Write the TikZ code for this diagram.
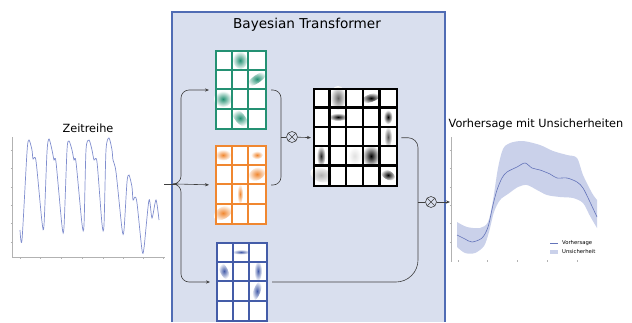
\documentclass[tikz,border=0pt]{standalone}
\usepackage{fontspec}
\setmainfont{DejaVu Sans}
\usetikzlibrary{arrows.meta}

\definecolor{boxfill}{RGB}{217,223,238}
\definecolor{boxline}{RGB}{80,108,180}
\definecolor{qgreen}{RGB}{36,145,115}
\definecolor{korange}{RGB}{240,135,48}
\definecolor{vblue}{RGB}{68,92,168}
\definecolor{curveblue}{RGB}{128,142,206}
\definecolor{meanblue}{RGB}{100,116,186}
\definecolor{bandblue}{RGB}{202,209,234}

\tikzset{
  flow/.style={draw=black!75, line width=0.6pt},
  flowarr/.style={flow, -{Stealth[length=4pt,width=3.2pt]}},
  mult/.style={circle, draw=black!75, line width=0.6pt, inner sep=0pt, minimum size=11pt,
    path picture={\draw[black!75, line width=0.6pt]
      (path picture bounding box.north west) -- (path picture bounding box.south east)
      (path picture bounding box.north east) -- (path picture bounding box.south west);}},
  wgrid/.style={draw=#1, line width=2pt, fill=white, inner sep=0pt,
    minimum width=50pt, minimum height=78pt, anchor=north west},
  axisline/.style={draw=black!30, line width=0.4pt},
  blob/.style={inner color=#1, outer color=white},
}

\begin{document}
\begin{tikzpicture}[x=1pt,y=-1pt]

\useasboundingbox (0,0) rectangle (632,322);

% transformer box
\fill[boxfill] (172,12) rectangle (445,322);
\draw[boxline, line width=1.8pt] (172,322) -- (172,12) -- (445,12) -- (445,322);
\node[font=\fontsize{13.6}{15}\selectfont] (tftitle) at (307,25) {Bayesian Transformer};

% input series
\node[font=\fontsize{11.3}{13}\selectfont] (tstitle) at (88,128) {Zeitreihe};
\draw[axisline] (12,137) -- (12,257) -- (165,257);
\foreach \y in {150,168,187,205,223,242} \draw[axisline] (10.5,\y) -- (12,\y);
\foreach \x in {20,40,61,82,103,123,143,163} \draw[axisline] (\x,257) -- (\x,259);
\draw[curveblue, line width=0.7pt] plot[smooth, tension=0.45] coordinates {
  (20,230) (22,240) (27,152) (29,140) (32,150) (33,159) (36,161) (42,222) (44,225)
  (47,152) (49,139) (52,150) (54,160) (56,162) (62,226) (64,227)
  (67,150) (69,141) (72,150) (74,160) (76,162) (82,224) (84,225)
  (86,150) (89,140) (92,150) (94,160) (97,162) (102,224) (104,225)
  (106,150) (109,138) (112,150) (113,160) (116,172) (122,229) (124,230)
  (127,182) (129,175) (132,187) (133,200) (135,197) (137,203) (142,250) (144,248)
  (149,200) (152,218) (156,200) (159,220)};

% weight grids
\node[wgrid=qgreen] (wq) at (215,50) {};
\node[wgrid=korange] (wk) at (215,145) {};
\node[wgrid=vblue] (wv) at (216,242) {};
\node[wgrid=black, line width=2.4pt, minimum width=83pt, minimum height=97pt] (attn) at (313,88) {};

% blobs
\shade[blob=qgreen, rotate around={10:(240,60)}] (240,60) ellipse (7 and 9);
\shade[blob=qgreen, rotate around={35:(257,79)}] (257,79) ellipse (11 and 4);
\shade[blob=qgreen] (223,99) ellipse (9 and 8);
\shade[blob=qgreen, rotate around={-50:(240,118)}] (240,118) ellipse (11 and 5);

\shade[blob=korange] (223,155) ellipse (8 and 5.5);
\shade[blob=korange] (257,155) ellipse (6 and 4);
\shade[blob=korange, rotate around={30:(257,174)}] (257,174) ellipse (9 and 6);
\shade[blob=korange] (240,194) ellipse (3 and 10);
\shade[blob=korange, rotate around={30:(223,213)}] (223,213) ellipse (10 and 6);

\shade[blob=vblue] (241,252) ellipse (9 and 2.5);
\shade[blob=vblue, rotate around={25:(224,271)}] (224,271) ellipse (4 and 9);
\shade[blob=vblue] (258,271) ellipse (4 and 10);
\shade[blob=vblue, rotate around={-20:(257,291)}] (257,291) ellipse (3.5 and 10);

\shade[blob=black!60] (338,98) ellipse (8 and 12);
\shade[blob=black, rotate around={20:(371,98)}] (371,98) ellipse (10 and 4);
\shade[blob=black] (338,117) ellipse (9.5 and 4);
\shade[blob=black] (388,117) ellipse (4.5 and 7);
\shade[blob=black!65] (388,137) ellipse (4 and 10.5);
\shade[blob=black!85] (321,156) ellipse (4.5 and 10.5);
\shade[blob=black!12] (354.5,156) ellipse (6.5 and 9);
\shade[blob=black] (371,156) ellipse (9 and 11);
\shade[blob=black!30, rotate around={-20:(321,175)}] (321,175) ellipse (11 and 7);
\shade[blob=black, rotate around={-30:(388,175)}] (388,175) ellipse (7.5 and 4.5);

% grid lines
\foreach \c in {1,2} {
  \draw[qgreen, line width=2pt] (215+\c*50/3,50) -- ++(0,78);
  \draw[korange, line width=2pt] (215+\c*50/3,145) -- ++(0,78);
  \draw[vblue, line width=2pt] (216+\c*50/3,242) -- ++(0,78);
}
\foreach \r in {1,2,3} {
  \draw[qgreen, line width=2pt] (215,50+\r*19.5) -- ++(50,0);
  \draw[korange, line width=2pt] (215,145+\r*19.5) -- ++(50,0);
  \draw[vblue, line width=2pt] (216,242+\r*19.5) -- ++(50,0);
}
\foreach \k in {1,2,3,4} {
  \draw[black, line width=2.4pt] (313+\k*83/5,88) -- ++(0,97);
  \draw[black, line width=2.4pt] (313,88+\k*97/5) -- ++(83,0);
}
\node[wgrid=qgreen, fill=none] at (215,50) {};
\node[wgrid=korange, fill=none] at (215,145) {};
\node[wgrid=vblue, fill=none] at (216,242) {};
\node[wgrid=black, fill=none, line width=2.4pt, minimum width=83pt, minimum height=97pt] at (313,88) {};

% connectors
\coordinate (tsend) at (164,184);
\coordinate (fork) at (177,184);
\coordinate (j1) at (281,137);
\coordinate (j2) at (418,202);
\coordinate (fcin) at (450,202);
\node[mult] (mul1) at (292,137) {};
\node[mult] (mul2) at (431,202) {};

\draw[flow] (tsend) -- (fork);
\draw[flowarr, rounded corners=8pt, shorten >=6pt] (fork) -- ++(4,0) |- (wq.west);
\draw[flowarr, shorten >=6pt] (fork) -- (wk.west);
\draw[flowarr, rounded corners=8pt, shorten >=6pt] (fork) -- ++(4,0) |- (wv.west);

\draw[flow, rounded corners=8pt, shorten <=4pt] (wq.east) -| (j1);
\draw[flow, rounded corners=8pt, shorten <=4pt] (wk.east) -| (j1);
\draw[flow] (j1) -- (mul1);
\draw[flowarr, shorten >=2pt] (mul1) -- (attn.west);

\draw[flow, rounded corners=10pt, shorten <=3pt] (attn.east) -| (j2);
\draw[flow, rounded corners=22pt, shorten <=4pt] (wv.east) -| (j2);
\draw[flow] (j2) -- (mul2);
\draw[flowarr] (mul2) -- (fcin);

% forecast
\node[font=\fontsize{11.3}{13}\selectfont] (fctitle) at (536,124) {Vorhersage mit Unsicherheiten};
\draw[axisline] (451,137) -- (451,262);
\foreach \y in {150,168,187,205,223,242} \draw[axisline] (449.5,\y) -- (451,\y);
\foreach \x in {458,487,517,547,577} \draw[axisline] (\x,260) -- (\x,261.5);
\fill[bandblue] plot[smooth, tension=0.5] coordinates {
  (457,222) (467,227) (480,228) (488,222) (493,200) (498,168) (503,149) (510,143)
  (523,141) (540,145) (553,151) (567,155) (577,158) (583,175) (592,193) (597,200)}
  -- plot[smooth, tension=0.5] coordinates {
  (597,228) (590,216) (583,203) (573,198) (560,197) (547,195) (537,190) (527,185)
  (518,187) (508,194) (500,200) (494,212) (489,232) (484,246) (475,253) (465,253) (457,247)}
  -- cycle;
\draw[meanblue, line width=0.6pt] plot[smooth, tension=0.5] coordinates {
  (457,235) (465,239) (472,242) (482,238) (488,227) (493,205) (497,190) (502,178)
  (507,172) (517,167) (525,163) (532,168) (540,170) (550,174) (557,178) (567,178)
  (577,182) (583,188) (590,202) (597,217)};

% legend
\draw[meanblue, line width=0.5pt] (550,243) -- (558,243);
\fill[bandblue] (550,250) rectangle (558,254);
\node[anchor=west, inner sep=0pt, font=\fontsize{5.3}{6}\selectfont] (lgmean) at (562,243) {Vorhersage};
\node[anchor=west, inner sep=0pt, font=\fontsize{5.3}{6}\selectfont] (lgband) at (562,252) {Unsicherheit};

\end{tikzpicture}
\end{document}
